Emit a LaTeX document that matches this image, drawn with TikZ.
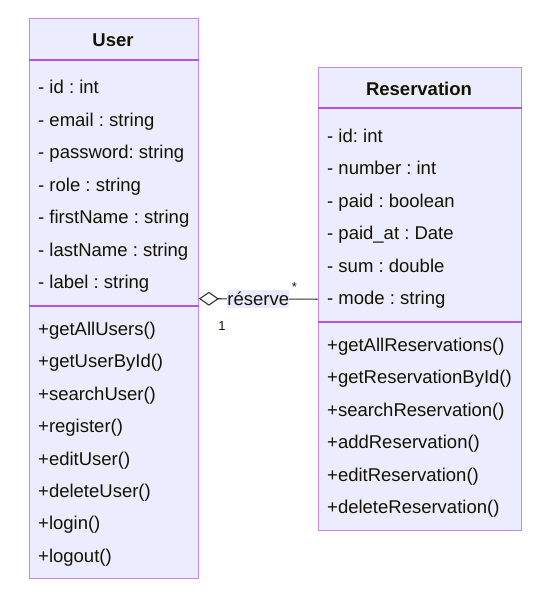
\documentclass[tikz,border=0pt]{standalone}
\usepackage{fontspec}
\setmainfont{Liberation Sans}
\usetikzlibrary{arrows.meta}
\definecolor{classfill}{RGB}{236,236,255}
\definecolor{classline}{RGB}{200,135,240}
\definecolor{divline}{RGB}{176,84,236}
\definecolor{txtcol}{RGB}{19,19,0}
\definecolor{lblfill}{RGB}{232,232,255}
\definecolor{linkcol}{RGB}{51,51,51}
\frenchspacing

\begin{document}
\begin{tikzpicture}[x = 1pt, y = -1pt,
	classbox/.style = {draw = classline, fill = classfill, line width = 1.4pt, anchor = north west, inner sep = 0pt},
	title/.style = {font = \fontsize{18.5}{22}\selectfont\bfseries, text = txtcol, anchor = base},
	member/.style = {font = \fontsize{18.5}{22}\selectfont, text = txtcol, anchor = base west, inner sep = 0pt},
	divider/.style = {draw = divline, line width = 1.3pt},
	link/.style = {draw = linkcol, line width = 1.1pt},
	mult/.style = {font = \fontsize{13}{15}\selectfont, text = txtcol, inner sep = 0pt}]
	\useasboundingbox (0,0) rectangle (556,598);
	% classes
	\node[classbox, minimum width = 169pt, minimum height = 560pt] (user) at (28.5,18) {};
	\node[classbox, minimum width = 203pt, minimum height = 463pt] (resv) at (317.5,67) {};
	\draw[divider] ([yshift = -42pt]user.north west) -- ([yshift = -42pt]user.north east);
	\draw[divider] ([yshift = -288pt]user.north west) -- ([yshift = -288pt]user.north east);
	\draw[divider] ([yshift = -41pt]resv.north west) -- ([yshift = -41pt]resv.north east);
	\draw[divider] ([yshift = -255pt]resv.north west) -- ([yshift = -255pt]resv.north east);
	\node[title] (userT) at (113,46.5) {User};
	\node[title] (resvT) at (419,95.5) {Reservation};
	% members
	\foreach \txt [count = \i from 0] in {- id : int, - email : string, - password: string, - role : string, - firstName : string, - lastName : string, - label : string}
		\node[member] (ua\i) at (38,93.5+32.5*\i) {\txt};
	\foreach \txt [count = \i from 0] in {+getAllUsers(), +getUserById(), +searchUser(), +register(), +editUser(), +deleteUser(), +login(), +logout()}
		\node[member] (um\i) at (38,335.5+32.4*\i) {\txt};
	\foreach \txt [count = \i from 0] in {- id: int, - number : int, - paid : boolean, - paid\_at : Date, - sum : double, - mode : string}
		\node[member] (ra\i) at (327,142.5+32.4*\i) {\txt};
	\foreach \txt [count = \i from 0] in {+getAllReservations(), +getReservationById(), +searchReservation(), +addReservation(), +editReservation(), +deleteReservation()}
		\node[member] (rm\i) at (327,351.5+32.4*\i) {\txt};
	% aggregation
	\draw[link, {Diamond[open, length = 20pt, width = 14pt]}-] (user.east) -- (resv.west)
	node[pos = 0.5, fill = lblfill, inner xsep = 0pt, inner ysep = 2pt, font = \fontsize{18.5}{22}\selectfont, text = txtcol] (lbl) {réserve};
	\node[mult] (m1) at ([xshift = 23pt, yshift = -27pt]user.east) {1};
	\node[mult] (m2) at ([xshift = -23pt, yshift = 12pt]resv.west) {*};
\end{tikzpicture}
\end{document}
